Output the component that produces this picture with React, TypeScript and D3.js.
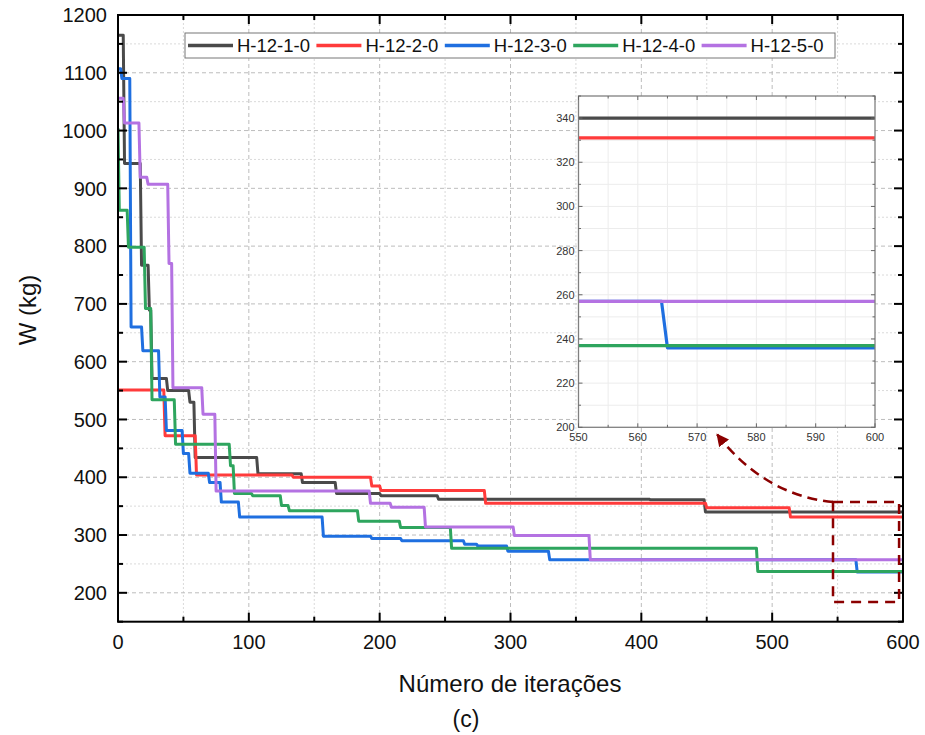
import React from 'react';
import * as d3 from 'd3';

const SERIES_NAMES = ['H-12-1-0', 'H-12-2-0', 'H-12-3-0', 'H-12-4-0', 'H-12-5-0'];
const COLORS = ['#4a4a4a', '#ff3b3b', '#1f6fe0', '#2ea55e', '#b472e2'];

const ITER_1 = [0, 5, 18, 24, 26, 38, 55, 59, 107, 141, 167, 201, 245, 407, 449];
const W_1 = [1165, 943, 767, 689, 571, 550, 530, 434, 406, 391, 372, 368, 362, 361, 340];

const ITER_2 = [0, 36, 60, 134, 194, 201, 281, 450, 514];
const W_2 = [551, 472, 404, 400, 385, 377, 355, 347, 331];

const ITER_3 = [0, 3, 10, 19, 32, 37, 50, 55, 70, 79, 93, 157, 194, 217, 265, 275, 298, 330, 565];
const W_3 = [1107, 1090, 660, 619, 539, 481, 441, 407, 391, 357, 331, 298, 294, 290, 284, 281, 272, 257, 236];

const ITER_4 = [0, 1, 8, 21, 26, 44, 86, 89, 103, 125, 131, 184, 216, 255, 489];
const W_4 = [1004, 862, 798, 692, 534, 457, 420, 372, 368, 351, 342, 324, 313, 277, 237];

const ITER_5 = [0, 5, 17, 23, 39, 42, 65, 75, 193, 209, 235, 303, 361];
const W_5 = [1056, 1013, 919, 907, 770, 555, 509, 376, 355, 348, 314, 299, 257];

const ITERS = [ITER_1, ITER_2, ITER_3, ITER_4, ITER_5];
const WS = [W_1, W_2, W_3, W_4, W_5];

const X_TICKS = [0, 100, 200, 300, 400, 500, 600];
const Y_TICKS = [200, 300, 400, 500, 600, 700, 800, 900, 1000, 1100, 1200];
const INSET_X_TICKS = [550, 560, 570, 580, 590, 600];
const INSET_Y_TICKS = [200, 220, 240, 260, 280, 300, 320, 340];

const FONT = '"Liberation Sans", Arial, Helvetica, sans-serif';
const DARKRED = '#8b0000';

function stepPoints(iters: number[], ws: number[], xmax: number): [number, number][] {
  const pts: [number, number][] = [];
  for (let i = 0; i < iters.length; i++) {
    if (i > 0) pts.push([Math.max(iters[i] - 1, iters[i - 1]), ws[i - 1]]);
    pts.push([iters[i], ws[i]]);
  }
  pts.push([xmax, ws[ws.length - 1]]);
  return pts;
}

export default function App() {
  const L = 118, R = 903, T = 15, B = 621.7;
  const x = d3.scaleLinear().domain([0, 600]).range([L, R]);
  const y = d3.scaleLinear().domain([150, 1200]).range([B, T]);

  const IL = 578.5, IR = 875, IT = 96, IB = 427.3;
  const ix = d3.scaleLinear().domain([550, 600]).range([IL, IR]);
  const iy = d3.scaleLinear().domain([200, 350]).range([IB, IT]);

  const mainLine = d3.line<[number, number]>().x(d => x(d[0])).y(d => y(d[1]));
  const insetLine = d3.line<[number, number]>().x(d => ix(d[0])).y(d => iy(d[1]));

  const xMinor = d3.range(0, 601, 50);
  const yMinor = d3.range(150, 1201, 50);

  const ixMinor = d3.range(550, 601, 5);
  const iyMinor = d3.range(200, 351, 10);

  // annotation (data coordinates of main axes)
  const rectX0 = 546.5, rectX1 = 597, rectY0 = 184, rectY1 = 357;
  const arrStart: [number, number] = [546.5, 357];
  const arrCtrl: [number, number] = [494, 369];
  const arrEnd: [number, number] = [458, 474];
  const arrowPath = `M${x(arrStart[0])},${y(arrStart[1])} Q${x(arrCtrl[0])},${y(arrCtrl[1])} ${x(arrEnd[0])},${y(arrEnd[1])}`;

  return (
    <svg width={925} height={735} style={{ position: 'absolute', left: 0, top: 0, background: '#fff' }} fontFamily={FONT}>
      <defs>
        <clipPath id="mainClip"><rect x={L} y={T} width={R - L} height={B - T} /></clipPath>
        <clipPath id="insetClip"><rect x={IL} y={IT} width={IR - IL} height={IB - IT} /></clipPath>
        <marker id="arrowHead" viewBox="0 0 10 10" refX="9" refY="5" markerWidth="5" markerHeight="5" orient="auto">
          <path d="M0,0 L10,5 L0,10 z" fill={DARKRED} />
        </marker>
      </defs>
      <rect x={0} y={0} width={925} height={735} fill="#fff" />

      {/* grid main */}
      {xMinor.filter(v => v > 0 && v < 600).map(v => (
        <line key={'gx' + v} x1={x(v)} x2={x(v)} y1={T} y2={B}
          stroke={v % 100 === 0 ? '#bdbdbd' : '#dadada'} strokeWidth={1}
          strokeDasharray={v % 100 === 0 ? '4,3' : '2,2'} />
      ))}
      {yMinor.filter(v => v > 150 && v < 1200).map(v => (
        <line key={'gy' + v} x1={L} x2={R} y1={y(v)} y2={y(v)}
          stroke={v % 100 === 0 ? '#bdbdbd' : '#dadada'} strokeWidth={1}
          strokeDasharray={v % 100 === 0 ? '4,3' : '2,2'} />
      ))}

      {/* series main */}
      <g clipPath="url(#mainClip)">
        {ITERS.map((it, i) => (
          <path key={'s' + i} d={mainLine(stepPoints(it, WS[i], 600)) || ''} fill="none"
            stroke={COLORS[i]} strokeWidth={3} strokeLinejoin="round" />
        ))}
      </g>

      {/* frame + ticks main */}
      <rect x={L} y={T} width={R - L} height={B - T} fill="none" stroke="#000" strokeWidth={2} />
      {xMinor.map(v => {
        const len = v % 100 === 0 ? 9 : 5;
        return (
          <g key={'tx' + v}>
            <line x1={x(v)} x2={x(v)} y1={B} y2={B - len} stroke="#000" strokeWidth={2} />
            <line x1={x(v)} x2={x(v)} y1={T} y2={T + len} stroke="#000" strokeWidth={2} />
          </g>
        );
      })}
      {yMinor.map(v => {
        const len = v % 100 === 0 ? 9 : 5;
        return (
          <g key={'ty' + v}>
            <line x1={L} x2={L + len} y1={y(v)} y2={y(v)} stroke="#000" strokeWidth={2} />
            <line x1={R} x2={R - len} y1={y(v)} y2={y(v)} stroke="#000" strokeWidth={2} />
          </g>
        );
      })}
      {X_TICKS.map(v => (
        <text key={'lx' + v} x={x(v)} y={649} textAnchor="middle" fontSize={20} fill="#111">{v}</text>
      ))}
      {Y_TICKS.map(v => (
        <text key={'ly' + v} x={107} y={y(v)} dy="0.36em" textAnchor="end" fontSize={20} fill="#111">{v}</text>
      ))}

      {/* axis titles */}
      <text x={510} y={692} textAnchor="middle" fontSize={24} fill="#111">Número de iterações</text>
      <text x={466} y={727} textAnchor="middle" fontSize={23} fill="#111">(c)</text>
      <text transform="translate(27,310) rotate(-90)" textAnchor="middle" dy="0.36em" fontSize={24} fill="#111">W (kg)</text>

      {/* legend */}
      <rect x={185} y={33} width={650} height={25} fill="#fff" stroke="#777" strokeWidth={1} />
      {SERIES_NAMES.map((n, i) => {
        const lx = 188 + i * 128.4;
        return (
          <g key={'lg' + i}>
            <line x1={lx} x2={lx + 45} y1={45.5} y2={45.5} stroke={COLORS[i]} strokeWidth={3.5} />
            <text x={lx + 49} y={52} fontSize={18.5} fill="#111">{n}</text>
          </g>
        );
      })}

      {/* annotation rectangle & arrow */}
      <rect x={x(rectX0)} y={y(rectY1)} width={x(rectX1) - x(rectX0)} height={y(rectY0) - y(rectY1)}
        fill="none" stroke={DARKRED} strokeWidth={2.5} strokeDasharray="10,7" />
      <path d={arrowPath} fill="none" stroke={DARKRED} strokeWidth={2.5} strokeDasharray="10,6"
        markerEnd="url(#arrowHead)" />

      {/* inset */}
      <rect x={IL} y={IT} width={IR - IL} height={IB - IT} fill="#fff" />
      {ixMinor.filter(v => v > 550 && v < 600).map(v => (
        <line key={'igx' + v} x1={ix(v)} x2={ix(v)} y1={IT} y2={IB} stroke="#ececec" strokeWidth={1} />
      ))}
      {iyMinor.filter(v => v > 200 && v < 350).map(v => (
        <line key={'igy' + v} x1={IL} x2={IR} y1={iy(v)} y2={iy(v)} stroke="#ececec" strokeWidth={1} />
      ))}
      <g clipPath="url(#insetClip)">
        {ITERS.map((it, i) => (
          <path key={'is' + i} d={insetLine(stepPoints(it, WS[i], 600)) || ''} fill="none"
            stroke={COLORS[i]} strokeWidth={3.2} strokeLinejoin="round" />
        ))}
      </g>
      <rect x={IL} y={IT} width={IR - IL} height={IB - IT} fill="none" stroke="#808080" strokeWidth={1.3} />
      {ixMinor.map(v => {
        const len = v % 10 === 0 ? 4 : 2.5;
        return (
          <g key={'itx' + v}>
            <line x1={ix(v)} x2={ix(v)} y1={IB} y2={IB - len} stroke="#666" strokeWidth={1} />
            <line x1={ix(v)} x2={ix(v)} y1={IT} y2={IT + len} stroke="#666" strokeWidth={1} />
          </g>
        );
      })}
      {iyMinor.map(v => {
        const len = v % 20 === 0 ? 4 : 2.5;
        return (
          <g key={'ity' + v}>
            <line x1={IL} x2={IL + len} y1={iy(v)} y2={iy(v)} stroke="#666" strokeWidth={1} />
            <line x1={IR} x2={IR - len} y1={iy(v)} y2={iy(v)} stroke="#666" strokeWidth={1} />
          </g>
        );
      })}
      {INSET_X_TICKS.map(v => (
        <text key={'ilx' + v} x={ix(v)} y={441} textAnchor="middle" fontSize={11} fill="#333">{v}</text>
      ))}
      {INSET_Y_TICKS.map(v => (
        <text key={'ily' + v} x={IL - 4} y={iy(v)} dy="0.36em" textAnchor="end" fontSize={11} fill="#333">{v}</text>
      ))}
    </svg>
  );
}
